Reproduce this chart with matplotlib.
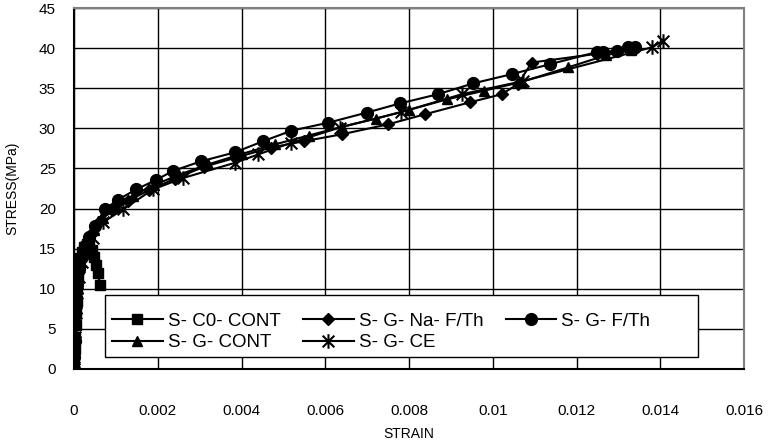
import matplotlib
matplotlib.use("Agg")
import matplotlib.pyplot as plt
from matplotlib.path import Path
from matplotlib.patches import Rectangle
from matplotlib.ticker import FixedLocator, FixedFormatter

# ---- data ----
c0_x = [0, 0.00001, 0.00002, 0.00003, 0.00004, 0.00005, 0.00006, 0.00007, 0.00009, 0.00011,
        0.00014, 0.00018, 0.00023, 0.0003, 0.00036, 0.00042, 0.00047, 0.00052, 0.00057, 0.00062]
c0_y = [0, 1.2, 2.5, 4, 5.5, 7, 8.5, 10, 11.5, 12.8, 13.8, 14.6, 15.2, 15.6, 15.4, 14.8, 14, 13, 12, 10.5]

na_x = [0, 0.00001, 0.00002, 0.00004, 0.00006, 0.0001, 0.00015, 0.00022, 0.0003, 0.00042, 0.0006,
        0.0009, 0.0013, 0.0018, 0.0024, 0.0031, 0.0039, 0.0047, 0.0055, 0.00639, 0.0075, 0.00838,
        0.00946, 0.01021, 0.0106, 0.01093, 0.0125, 0.0134]
na_y = [0, 2, 4, 7, 9.5, 12, 13.5, 14.8, 15.8, 17, 18.3, 19.8, 21, 22.3, 23.7, 25.2, 26.4, 27.6,
        28.4, 29.25, 30.5, 31.75, 33.25, 34.25, 35.5, 38.2, 39.3, 39.9]

fth_x = [0, 0.00001, 0.00002, 0.00003, 0.00005, 0.00008, 0.00012, 0.00018, 0.00026, 0.00036, 0.0005,
         0.00073, 0.00105, 0.00149, 0.00197, 0.00237, 0.00304, 0.00384, 0.00452, 0.00519, 0.00607,
         0.00699, 0.00778, 0.00869, 0.00953, 0.01045, 0.01137, 0.01248, 0.01264, 0.01296, 0.01323, 0.0134]
fth_y = [0, 1.5, 3.5, 5.5, 8, 10.5, 12.5, 14, 15.3, 16.5, 17.8, 19.9, 21.1, 22.4, 23.6, 24.7, 25.9,
         27.0, 28.4, 29.7, 30.7, 31.96, 33.1, 34.25, 35.6, 36.75, 38.0, 39.5, 39.5, 39.7, 40.1, 40.2]

cont_x = [0, 0.00001, 0.00002, 0.00004, 0.00006, 0.0001, 0.00016, 0.00024, 0.00034, 0.00048, 0.0007,
          0.001, 0.0014, 0.0019, 0.0025, 0.0032, 0.004, 0.0048, 0.0056, 0.0064, 0.0072, 0.008, 0.0089,
          0.0098, 0.0107, 0.0118, 0.0127, 0.0133]
cont_y = [0, 1.8, 3.8, 6.5, 9, 11.5, 13.3, 14.8, 16, 17.3, 18.8, 20.3, 21.6, 22.9, 24.2, 25.5, 26.8,
          28.0, 29.1, 30.2, 31.2, 32.3, 33.6, 34.7, 35.8, 37.6, 39.1, 39.8]

ce_x = [0, 0.00001, 0.00003, 0.00005, 0.00008, 0.00012, 0.0002, 0.0003, 0.00045, 0.0007, 0.00117,
        0.00189, 0.0026, 0.00384, 0.0044, 0.00519, 0.00635, 0.0078, 0.00926, 0.01073, 0.0138, 0.01407]
ce_y = [0, 1.5, 4, 7, 9.5, 11.5, 13.3, 14.8, 16.3, 18.3, 19.9, 22.4, 23.8, 25.7, 26.75, 28.2, 30.1,
        32.0, 34.25, 35.9, 40.1, 40.9]

labels = ["S- C0- CONT", "S- G- CONT", "S- G- Na- F/Th", "S- G- CE", "S- G- F/Th"]
x_ticks = [0, 0.002, 0.004, 0.006, 0.008, 0.010, 0.012, 0.014, 0.016]
x_tick_labels = ["0", "0.002", "0.004", "0.006", "0.008", "0.01", "0.012", "0.014", "0.016"]
y_ticks = [0, 5, 10, 15, 20, 25, 30, 35, 40, 45]

# ---- style ----
plt.rcParams['font.family'] = ['Liberation Sans', 'DejaVu Sans']

star_path = Path([(0, -1), (0, 1), (-0.8, -0.8), (0.8, 0.8), (-0.8, 0.8), (0.8, -0.8)],
                 [Path.MOVETO, Path.LINETO, Path.MOVETO, Path.LINETO, Path.MOVETO, Path.LINETO])

W, H = 769, 445
fig = plt.figure(figsize=(W / 100, H / 100), dpi=100)
ax = fig.add_axes([74 / W, 1 - 369 / H, (744 - 74) / W, (369 - 8) / H])

lw = 1.5
ms = 7.5
h_c0, = ax.plot(c0_x, c0_y, color='black', lw=lw, marker='s', ms=ms)
h_na, = ax.plot(na_x, na_y, color='black', lw=lw, marker='D', ms=ms * 0.85)
h_fth, = ax.plot(fth_x, fth_y, color='black', lw=lw, marker='o', ms=ms + 1)
h_cont, = ax.plot(cont_x, cont_y, color='black', lw=lw, marker='^', ms=ms)
h_ce, = ax.plot(ce_x, ce_y, color='black', lw=lw, marker=star_path, ms=ms + 3, mew=1.5)

ax.set_xlim(0, 0.016)
ax.set_ylim(0, 45)
ax.xaxis.set_major_locator(FixedLocator(x_ticks))
ax.xaxis.set_major_formatter(FixedFormatter(x_tick_labels))
ax.yaxis.set_major_locator(FixedLocator(y_ticks))
ax.grid(True, color='black', lw=1)
ax.set_axisbelow(True)
ax.tick_params(axis='both', length=0, labelsize=11)
ax.tick_params(axis='x', pad=25)
ax.tick_params(axis='y', pad=13)

for s in ['top', 'right']:
    ax.spines[s].set_color('#808080')
    ax.spines[s].set_linewidth(1.5)
for s in ['left', 'bottom']:
    ax.spines[s].set_color('black')
    ax.spines[s].set_linewidth(1.5)

ax.set_xlabel("STRAIN", fontsize=10, labelpad=7)
ax.set_ylabel("STRESS(MPa)", fontsize=10, labelpad=14)

# legend frame
frame = Rectangle((105 / W, 1 - 357 / H), 593 / W, 62 / H, transform=fig.transFigure,
                  facecolor='white', edgecolor='black', lw=1.0, zorder=4.5, clip_on=False)
ax.add_artist(frame)

handles = [h_c0, h_cont, h_na, h_ce, h_fth]
leg = ax.legend(handles, labels, ncol=3, loc='center left',
                bbox_to_anchor=((112 - 74) / 670, (369 - 332) / 361),
                fontsize=13.5, frameon=False, handlelength=2.7, handletextpad=0.27,
                columnspacing=1.2, borderaxespad=0, labelspacing=0.25, borderpad=0)
leg.set_zorder(6)

fig.savefig("out.png", dpi=100)
